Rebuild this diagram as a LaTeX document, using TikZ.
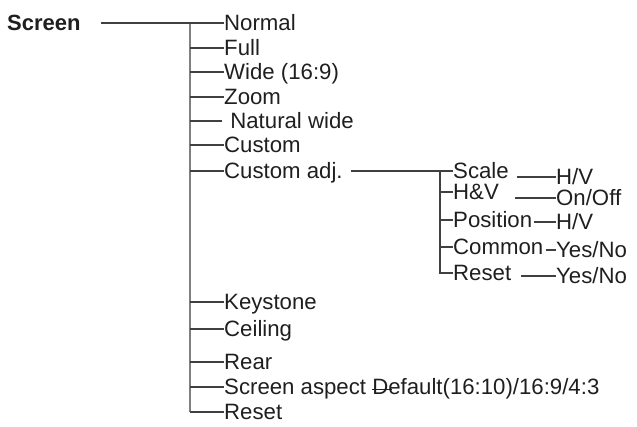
\documentclass[tikz,border=0pt]{standalone}
\usepackage{fontspec}
\setmainfont{Liberation Sans}
\usepackage{tikz}
\usetikzlibrary{calc}

\begin{document}
\begin{tikzpicture}[x=1pt,y=1pt]
                \tikzstyle{every node}+=[inner sep=0pt,anchor=west,text height=15.9pt,text depth=0pt,text=black!88,font=\fontsize{22.2}{24}\selectfont]
                \tikzstyle{branch}=[black!75,line width=1.3pt]
                \tikzstyle{trunk}=[black!50,line width=2.2pt]
                \useasboundingbox (0,0) rectangle (637,-426);
                \node [font=\fontsize{22}{24}\selectfont\bfseries] (screen) at (7,-23) {Screen};
                \node (normal) at (224,-23) {Normal};
                \node (full) at (224,-48) {Full};
                \node (wide) at (224,-72) {Wide (16:9)};
                \node (zoom) at (224,-97) {Zoom};
                \node (natural) at (224,-121) {\ Natural wide};
                \node (custom) at (224,-145) {Custom};
                \node (cadj) at (224,-171) {Custom adj.};
                \node (keystone) at (224,-302) {Keystone};
                \node (ceiling) at (224,-329) {Ceiling};
                \node (rear) at (224,-362) {Rear};
                \node (aspect) at (224,-387) {Screen aspect \rlap{\rule[0.22em]{0.9em}{0.07em}}Default(16:10)/16:9/4:3};
                \node (reset) at (224,-412) {Reset};
                \node (scale) at (453,-171) {Scale};
                \node (hv) at (453,-192) {H\&V};
                \node (position) at (453,-220) {Position};
                \node (common) at (453,-247) {Common};
                \node (sreset) at (453,-273) {Reset};
                \node (scalev) at (556,-177) {H/V};
                \node (hvv) at (556,-198) {On/Off};
                \node (positionv) at (556,-222) {H/V};
                \node (commonv) at (556,-250) {Yes/No};
                \node (sresetv) at (556,-276) {Yes/No};
                \coordinate (top) at (190,-23);
                \coordinate (subtop) at (440,-171);
                \draw [trunk] (top) -- (top |- reset.west);
                \draw [branch] ([xshift=20pt]screen.east) -- (normal.west);
                \draw [branch] (top |- full.west) -- (full.west);
                \draw [branch] (top |- wide.west) -- (wide.west);
                \draw [branch] (top |- zoom.west) -- (zoom.west);
                \draw [branch] (top |- natural.west) -- ([xshift=-2pt]natural.west);
                \draw [branch] (top |- custom.west) -- (custom.west);
                \draw [branch] (top |- cadj.west) -- (cadj.west);
                \draw [branch] (top |- keystone.west) -- (keystone.west);
                \draw [branch] (top |- ceiling.west) -- (ceiling.west);
                \draw [branch] (top |- rear.west) -- (rear.west);
                \draw [branch] (top |- aspect.west) -- (aspect.west);
                \draw [branch] (top |- reset.west) -- (reset.west);
                \draw [branch] ([xshift=8pt]cadj.east) -- (scale.west);
                \draw [branch] (subtop) -- (subtop |- sreset.west) -- (sreset.west);
                \draw [branch] (subtop |- hv.west) -- (hv.west);
                \draw [branch] (subtop |- position.west) -- (position.west);
                \draw [branch] (subtop |- common.west) -- (common.west);
                \draw [branch] ([xshift=8pt]scale.east |- scalev.west) -- (scalev.west);
                \draw [branch] ([xshift=16pt]hv.east |- hvv.west) -- (hvv.west);
                \draw [branch] ([xshift=2pt]position.east |- positionv.west) -- (positionv.west);
                \draw [branch] ([xshift=3pt]common.east |- commonv.west) -- (commonv.west);
                \draw [branch] ([xshift=10pt]sreset.east |- sresetv.west) -- (sresetv.west);
            \end{tikzpicture}
\end{document}
